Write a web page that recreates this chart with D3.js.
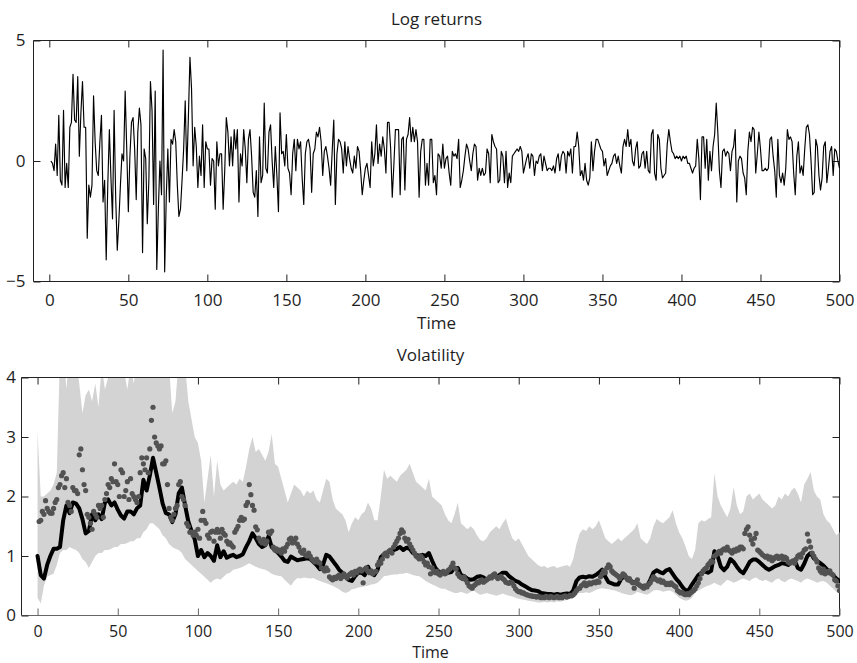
<!DOCTYPE html>
<html>
<head>
<meta charset="utf-8">
<script src="https://cdn.jsdelivr.net/npm/d3@7"></script>
<style>
  html, body { margin: 0; padding: 0; background: #fff; }
  svg { display: block; font-family: "Open Sans", "DejaVu Sans", sans-serif; }
</style>
</head>
<body>
<svg id="chart" width="857" height="663"></svg>
<script>
// ---------------------------------------------------------------
// Data
// ---------------------------------------------------------------

// Tick values shared by both panels
const timeTicks = [0, 50, 100, 150, 200, 250, 300, 350, 400, 450, 500];
const returnTicks = [-5, 0, 5];
const volTicks = [0, 1, 2, 3, 4];

// Daily log returns, t = 1..500
const logReturns = [
  0.0, -0.1, -0.4, 0.7, -0.6, 1.9, -0.8, -1.0, 2.1, -1.1,
  -0.1, -1.1, 1.4, 1.6, 3.6, 1.7, 1.6, 3.5, 0.2, 2.0,
  3.3, 1.4, 1.4, -3.2, -1.0, -1.5, -1.0, 2.7, 0.8, -0.4,
  -0.6, 0.8, 1.9, -1.7, -0.8, -4.1, -1.0, 1.3, -0.7, -2.4,
  2.1, -1.5, -3.7, -2.5, -1.0, 0.3, 0.0, 2.9, 0.5, -2.1,
  0.2, 1.6, 1.8, 0.5, -1.6, 1.2, 2.2, 1.5, -3.8, 0.5,
  0.1, -2.6, -0.8, 3.3, 2.1, -1.8, 2.9, -4.5, -2.0, 0.0,
  -1.4, 4.6, -4.6, -1.5, 0.5, -1.7, 0.9, 0.7, 1.3, 0.8,
  -1.0, -2.3, -2.0, -0.8, 0.5, 2.5, -0.4, 1.8, 4.3, 3.0,
  -0.2, 1.4, 0.6, -1.1, 0.2, -0.6, 1.5, -1.1, 0.8, 0.5,
  0.5, -1.0, 0.1, 0.0,
  -2.0, 0.8, -0.2, 0.3, 0.3, -2.0, -0.4, 1.8, 1.2, -0.2,
  1.0, -0.2, 1.3, 0.5, 1.3, -1.7, 0.3, -0.2, 1.3, 0.5,
  -0.9, 0.9, 1.3, 0.2, -1.3, -1.5, -0.4, -2.3, 1.0, -0.9,
  -0.6, 2.4, -0.3, -0.5, 1.2, 1.5, 0.0, -1.1, 0.6, -0.6,
  -2.1, 2.0, 0.3, 0.4, -0.2, 1.1, -0.3, -0.5, -1.4, 0.3,
  0.9, -0.4, 0.9, 0.5, 0.8, -0.7, -1.8, 0.3, 0.8, 0.9,
  0.5, -1.3, 0.3, 0.5, 1.2, 1.0, 1.4, 0.8, -0.6, 0.4,
  0.6, 0.2, -0.3, -1.0, 0.4, 1.7, -1.8, 0.3, 0.9, 0.8,
  0.5, -0.5, 0.8, -0.2, 0.6, 0.1, -0.3, -0.5, 0.2, -0.3,
  0.6, 0.4, -0.4, -1.4, -0.8, -0.3, -0.1, -0.6, -1.1, 0.8,
  -0.2, 0.3, 1.5, -0.1, 0.7, 0.2, 1.0, 0.5, -0.5, 1.6,
  1.6, 0.5, -1.5, -0.2, 1.3, 1.3, 1.3, -1.4, 0.9, 1.0,
  -1.2, 0.9, 1.1, 1.8, 0.8, 1.4, 0.8, 1.3, 0.8, -1.5,
  0.4, 0.9, 0.9, -1.0, -0.1, -1.0, 0.9, 0.9, -0.9, -0.6,
  -1.4, 0.3, 0.2, -0.3, 0.7, -0.3, 0.1, 0.2, -0.5, -1.0,
  0.4, 0.2, 0.3, 0.1, 0.9, -1.1, -0.8, -0.4, 0.2, 0.7,
  0.5, 0.0, -0.4, 0.3, 0.7, 0.6, -0.8, -0.3, -0.6, -0.3,
  -0.6, -0.5, 0.5, 0.3, -0.9, 1.1, 0.8, 0.6, 0.5, -0.9,
  -0.8, 0.4, 0.2, -0.9, 0.4, -1.1, -0.5, -0.9, 0.2, 0.3,
  0.4, 0.5, 0.4, 0.6, 0.4, -0.5, -0.2, 0.1, 0.3, -0.3,
  0.3, 0.2, -0.6, 0.0, -0.1, 0.2, 0.3, -0.4, 0.2, -0.1,
  -0.4, -0.3, -0.3, -0.4, -0.2, -0.5, 0.1, 0.3, -0.4, 0.2,
  0.4, 0.3, -0.5, 0.4, 0.2, 0.5, -0.5, 0.6, 0.6, 1.2,
  0.6, -0.6, -0.4, -0.8, -0.1, -0.8, -1.0, -0.7, 0.8, -0.4,
  0.4, 0.9, 0.9, 0.7, 0.5, 0.4, -0.2, 0.1, -0.6, -0.4,
  -0.2, -0.1, 0.2, 0.3, -0.1, 0.2,
  -0.2, -0.5, 0.6, 0.9, 0.6, 1.3, 0.6, 0.9, 0.0, -0.2,
  0.5, 0.8, -0.3, -0.2, 0.3, 0.4, -0.3, 0.4, -0.4, -0.5,
  1.1, 1.3, -0.5, -0.8, 1.1, 0.9, -0.3, -0.7, -0.6, -0.5,
  0.7, 1.3, 0.8, 0.4, 0.3, 0.1, 0.2, 0.1, 0.2, 0.0, 0.2, 0.1, 0.2,
  -0.1, -0.1, -0.3, -0.5, -0.3, -0.2, 0.9, 0.1, -1.6, 1.0,
  1.0, -0.3, 0.9, -0.8, 0.4, -0.4, 0.6, 1.1, 2.4, 1.2,
  -0.4, -1.1, 0.4, 0.5, 0.2, 0.4, 0.3, -0.4, 0.4, 0.6,
  1.3, -1.7, 0.0, 0.2, 0.1, -0.5, -0.7, -1.4, 0.4, 1.2,
  0.8, 1.4, 1.3, -0.5, 0.3, 1.2, 0.5, -0.4, -0.4, -0.3,
  -0.4, -0.3, 0.9, 1.0, 0.2, -0.4, -1.5, 0.9, -0.6, -0.9,
  -0.5, -1.0, -0.3, 1.3, 0.9, 1.0, 0.8, -0.5, -1.4, 0.2,
  0.8, -0.5, -0.2, -0.6, 0.5, 1.4, 1.5, 1.1, 0.0, -1.4,
  -1.3, 0.9, 0.6, -0.6, -1.2, -0.7, 0.6, 0.8, -0.9, -0.3,
  0.4, 0.6, -0.6, 0.5, 0.4, 0.0, -0.3
];
const returnTimes = logReturns.map((_, i) => i + 1);

// Volatility band (upper / lower) and filtered estimate, every second step t = 0, 2, ..., 500
const volUpper = [
  3.1, 2.0, 2.0, 2.05, 2.1, 2.2, 2.4, 4.4, 4.6, 3.8,
  4.5, 4.4, 4.3, 3.9, 3.4, 3.7, 3.8, 3.6, 3.9, 3.5,
  4.2, 3.8, 4.0, 4.4, 4.6, 4.5, 4.3, 4.1, 3.8, 4.2,
  3.9, 4.3, 4.6, 4.8, 5.0, 5.2, 5.3, 5.0, 4.8, 4.6,
  4.4, 4.2, 3.4, 3.6, 4.3, 4.5, 4.2, 3.6, 3.3, 3.0,
  2.9, 2.6, 1.9, 2.3, 2.7, 2.0, 2.6, 2.2, 2.1, 2.15,
  2.2, 2.25, 2.2, 2.3, 2.25, 2.5, 2.8, 3.0, 2.75, 2.8,
  2.7, 2.6, 2.75, 3.05, 2.55, 2.5, 2.3, 2.1, 1.9, 2.05,
  2.2, 2.15, 2.1, 2.0, 2.1, 2.05, 2.1, 1.95, 1.9, 2.1,
  2.3, 2.25, 1.95, 1.8, 1.75, 1.7, 1.6, 1.4, 1.55, 1.65,
  1.6, 1.7, 1.75, 1.9, 1.8, 1.6, 1.6, 2.0, 2.45, 2.3,
  2.35, 2.3, 2.25, 2.35, 2.4, 2.45, 2.55,
  2.4, 2.25, 2.2, 2.15, 2.1, 2.3, 2.0, 1.95, 1.9, 1.85,
  1.7, 1.6, 1.55, 1.7, 1.9, 1.55, 1.5, 1.45, 1.5, 1.45,
  1.35, 1.27, 1.25, 1.3, 1.4, 1.45, 1.5, 1.45, 1.55, 1.63,
  1.45, 1.3, 1.25, 1.3, 1.2, 1.1, 1.0, 0.95, 0.9, 0.85,
  0.82, 0.83, 0.8, 0.82, 0.83, 0.8, 0.82, 0.83, 0.85, 0.82,
  0.95, 1.2, 1.38, 1.45, 1.42, 1.5, 1.45, 1.5, 1.6, 1.45,
  1.3, 1.25, 1.2, 1.25, 1.3,
  1.25, 1.3, 1.35, 1.4, 1.45, 1.55, 1.3, 1.25, 1.2, 1.3,
  1.5, 1.62, 1.58, 1.55, 1.6, 1.65, 1.77, 1.55, 1.4, 1.3,
  1.16, 1.0, 0.95, 1.1, 1.55, 1.6, 1.58, 1.62, 1.65, 2.39,
  2.0, 1.85, 1.75, 1.65, 1.8, 2.16, 1.85, 1.7, 1.75, 2.0,
  2.05, 1.95, 2.0, 2.05, 1.95, 1.9, 1.85, 1.8, 1.85, 2.0,
  1.95, 2.05, 2.0, 2.1, 2.15, 2.05, 1.9, 2.2, 2.3, 2.41,
  2.1, 2.0, 1.95, 1.7, 1.6, 1.55, 1.45, 1.35, 1.4
];
const volLower = [
  0.3, 0.2, 0.5, 0.65, 0.68, 0.7, 0.85, 1.05, 1.1, 1.1,
  1.15, 1.12, 1.1, 1.05, 0.95, 0.9, 0.8, 0.9, 1.0, 1.05,
  1.05, 1.1, 1.1, 1.12, 1.15, 1.15, 1.2, 1.2, 1.22, 1.25,
  1.25, 1.3, 1.3, 1.4, 1.45, 1.55, 1.55, 1.5, 1.45, 1.35,
  1.3, 1.2, 1.15, 1.12, 1.1, 1.05, 0.95, 0.9, 0.85, 0.8,
  0.75, 0.7, 0.65, 0.6, 0.55, 0.6, 0.62,
  0.6, 0.65, 0.7, 0.72, 0.77, 0.78, 0.8, 0.82, 0.85, 0.88,
  0.85, 0.82, 0.8, 0.78, 0.77, 0.74, 0.7, 0.68, 0.67, 0.66,
  0.6, 0.55, 0.5, 0.58, 0.63, 0.62, 0.64, 0.63, 0.62, 0.63,
  0.6, 0.58, 0.56, 0.54, 0.52, 0.5, 0.47, 0.44, 0.4, 0.38,
  0.4, 0.44, 0.45, 0.47, 0.48, 0.49, 0.5, 0.52, 0.53, 0.55,
  0.6, 0.66, 0.67, 0.68, 0.69, 0.69, 0.7, 0.7, 0.72, 0.7,
  0.68, 0.67, 0.66, 0.62, 0.58, 0.55, 0.52, 0.5, 0.47, 0.45,
  0.45, 0.42, 0.4, 0.38, 0.38, 0.4, 0.38, 0.36, 0.4, 0.42,
  0.38, 0.35, 0.36, 0.38, 0.36, 0.35, 0.33, 0.35, 0.37, 0.35,
  0.33, 0.32, 0.3, 0.28, 0.27, 0.26, 0.25, 0.24, 0.23, 0.22,
  0.22, 0.23, 0.22, 0.23, 0.22, 0.24, 0.23, 0.25, 0.26, 0.28,
  0.32, 0.36, 0.38, 0.38, 0.39, 0.38, 0.4, 0.43, 0.45, 0.46,
  0.45, 0.44, 0.43, 0.42, 0.4,
  0.38, 0.36, 0.35, 0.34, 0.36, 0.4, 0.38, 0.36, 0.35, 0.38,
  0.42, 0.43, 0.42, 0.4, 0.41, 0.42, 0.4, 0.35, 0.3, 0.27,
  0.25, 0.26, 0.3, 0.38, 0.42, 0.45, 0.48, 0.5, 0.52, 0.55,
  0.52, 0.5, 0.55, 0.6, 0.58, 0.55, 0.57, 0.6, 0.62, 0.6,
  0.58, 0.62, 0.64, 0.6, 0.58, 0.6, 0.57, 0.55, 0.6, 0.62,
  0.58, 0.56, 0.6, 0.62, 0.6, 0.58, 0.55, 0.6, 0.62, 0.6,
  0.58, 0.55, 0.57, 0.58, 0.55, 0.5, 0.45, 0.4, 0.38
];
const volEstimate = [
  1.0, 0.68, 0.62, 0.85, 1.0, 1.12, 1.12, 1.15, 1.6, 1.85,
  1.72, 1.9, 1.88, 1.8, 1.62, 1.38, 1.42, 1.7, 1.6, 1.7,
  1.62, 1.9, 1.95, 1.85, 1.9, 1.78, 1.68, 1.63, 1.75, 1.75,
  1.7, 1.8, 1.85, 2.28, 2.1, 2.35, 2.65, 2.4, 2.15, 1.88,
  1.72, 1.7, 1.57, 1.7, 2.05, 2.15, 1.85, 1.58, 1.42, 1.28,
  1.0,
  1.1, 0.98, 1.05, 1.0, 0.92, 1.18, 0.98, 1.08, 0.97, 1.0,
  1.02, 0.98, 1.0, 1.03, 1.15, 1.25, 1.38, 1.3, 1.2, 1.15,
  1.18, 1.33, 1.15, 1.1, 1.05, 0.99, 0.92, 0.9, 0.99, 0.96,
  0.93, 0.94, 0.95, 0.96, 0.95, 0.9, 0.85, 0.78, 0.85, 1.02,
  0.99, 0.92, 0.85, 0.77, 0.72, 0.66, 0.6, 0.58, 0.66, 0.72,
  0.72, 0.68, 0.82, 0.72, 0.68, 0.77, 0.98, 1.03, 1.05, 1.08,
  1.1, 1.12, 1.15, 1.1, 1.14, 1.12,
  1.05, 1.02, 1.0, 1.02, 1.0, 1.05, 0.92, 0.8, 0.74, 0.72,
  0.7, 0.72, 0.73, 0.8, 0.8, 0.68, 0.66, 0.62, 0.6, 0.61,
  0.65, 0.66, 0.64, 0.6, 0.63, 0.68, 0.65, 0.68, 0.72, 0.72,
  0.66, 0.62, 0.58, 0.56, 0.52, 0.49, 0.46, 0.43, 0.42, 0.41,
  0.38, 0.37, 0.36, 0.36, 0.35, 0.36, 0.35, 0.36, 0.37, 0.36,
  0.42, 0.58, 0.64, 0.65, 0.64, 0.66, 0.65, 0.68, 0.72, 0.77,
  0.65, 0.56, 0.54, 0.52, 0.52,
  0.62, 0.66, 0.6, 0.57, 0.56, 0.53, 0.49, 0.5, 0.49, 0.6,
  0.72, 0.76, 0.73, 0.71, 0.76, 0.78, 0.7, 0.62, 0.56, 0.48,
  0.42, 0.43, 0.52, 0.6, 0.68, 0.72, 0.74, 0.72, 0.75, 1.08,
  1.0, 0.82, 0.76, 0.82, 0.95, 0.9, 0.82, 0.75, 0.71, 0.8,
  0.9, 0.94, 0.94, 0.9, 0.85, 0.8, 0.77, 0.8, 0.83, 0.85,
  0.88, 0.87, 0.85, 0.9, 0.93, 0.8, 0.77, 0.87, 1.0, 1.05,
  0.96, 0.92, 0.88, 0.84, 0.78, 0.72, 0.68, 0.62, 0.58
];
const volTimes = volEstimate.map((_, i) => i * 2);

// Realised volatility points, t = 1..500
const volRealised = [
  1.58, 1.6, 1.75, 1.7, 1.93, 1.8, 1.75, 1.72, 1.72, 1.8,
  1.9, 1.95, 2.15, 2.2, 2.35, 2.4, 2.15, 2.3, 1.9, 1.85,
  1.75, 2.15, 2.1, 2.1, 2.05, 2.7, 2.8, 2.45, 2.2, 2.1,
  1.7, 1.65, 1.55, 1.45, 1.75, 1.7, 1.65, 1.85, 1.8, 1.85,
  1.65, 1.95, 2.05, 2.2, 2.15, 2.3, 2.25, 2.55, 2.25, 2.2,
  2.0, 2.45, 2.4, 2.0, 2.1, 2.25, 1.95, 2.3, 2.05, 2.0,
  1.95, 1.9, 2.0, 2.4, 2.65, 2.55, 2.45, 2.65, 2.4, 2.8,
  3.28, 3.5, 3.0, 2.9, 2.85, 2.8, 2.85, 2.55, 2.55, 2.6,
  2.2, 1.8, 1.65, 1.6, 1.7, 1.8, 1.85, 2.2, 2.25, 2.0,
  1.95, 1.85, 1.55, 1.5, 1.4, 1.4, 1.35, 1.4, 1.35, 1.45,
  1.3, 1.6, 1.75, 1.6, 1.55, 1.35, 1.3, 1.4, 1.42, 1.25,
  1.4, 1.45, 1.4, 1.3, 1.45, 1.38, 1.35, 1.25, 1.2, 1.22,
  1.18, 1.15, 1.4, 1.45, 1.5, 1.6, 1.65, 1.6, 1.62, 1.85,
  1.9, 2.2, 2.03, 1.85, 1.77, 1.49, 1.44, 1.3, 1.25, 1.22,
  1.28, 1.2, 1.25, 1.4, 1.38, 1.42, 1.15, 1.1, 1.12, 1.08,
  1.1, 1.05, 1.12, 1.08, 1.15, 1.2, 1.28, 1.3, 1.22, 1.25,
  1.3, 1.2, 1.15, 1.08, 1.05, 1.1, 1.02, 1.0, 1.05, 1.0,
  0.95, 0.92, 0.9, 0.95, 0.9, 0.88, 0.8, 0.78, 0.75, 0.8,
  0.76, 0.65, 0.62, 0.6, 0.64, 0.62, 0.66, 0.68, 0.62, 0.65,
  0.7, 0.66, 0.63, 0.68, 0.7, 0.72, 0.68, 0.74, 0.72, 0.76,
  0.78, 0.75, 0.55, 0.78, 0.8, 0.74, 0.72, 0.75, 0.7, 0.73,
  0.74, 0.85, 0.9, 0.88, 0.95, 1.02, 1.05, 1.0, 1.08, 1.1,
  1.05, 1.15, 1.2, 1.25, 1.3, 1.38, 1.44, 1.4, 1.3, 1.25,
  1.28, 1.2, 1.15, 1.1, 1.05, 1.0, 0.98, 0.95, 1.0, 0.96,
  0.9, 0.85, 0.88, 0.82, 0.7, 0.8, 0.75, 0.72, 0.74, 0.7,
  0.68, 0.72, 0.74, 0.7, 0.72, 0.76, 0.78, 0.82, 0.88, 0.8,
  0.78, 0.7, 0.66, 0.64, 0.62, 0.65, 0.6, 0.55, 0.5, 0.48,
  0.46, 0.5, 0.52, 0.56, 0.55, 0.58, 0.6, 0.56, 0.58, 0.6,
  0.62, 0.65, 0.63, 0.68, 0.7, 0.65, 0.62, 0.64, 0.66, 0.62,
  0.6, 0.56, 0.55, 0.54, 0.56, 0.55, 0.5, 0.45, 0.42, 0.4,
  0.4, 0.38, 0.38, 0.36, 0.35, 0.34, 0.33, 0.33, 0.32, 0.32,
  0.31, 0.32, 0.31, 0.3, 0.31, 0.3, 0.32, 0.31, 0.3, 0.32,
  0.31, 0.3, 0.31, 0.32, 0.3, 0.31, 0.3, 0.32, 0.33, 0.31,
  0.32, 0.34, 0.33, 0.35, 0.38, 0.42, 0.45, 0.46, 0.5, 0.52,
  0.55, 0.5, 0.52, 0.55, 0.53, 0.55, 0.56, 0.55, 0.58, 0.56,
  0.65, 0.7, 0.75, 0.72, 0.8, 0.85, 0.82, 0.75, 0.72, 0.7,
  0.68, 0.66, 0.62, 0.66, 0.7, 0.68, 0.64, 0.6, 0.62, 0.58,
  0.55, 0.46, 0.55, 0.6, 0.52, 0.5, 0.48, 0.46, 0.5, 0.48,
  0.52, 0.55, 0.6, 0.65, 0.62, 0.6, 0.58, 0.6, 0.56, 0.58,
  0.55, 0.52, 0.54, 0.52, 0.55, 0.52, 0.5, 0.48, 0.42, 0.4,
  0.38, 0.39, 0.36, 0.35, 0.37, 0.35, 0.38, 0.4, 0.42, 0.45,
  0.5, 0.55, 0.62, 0.7, 0.75, 0.78, 0.8, 0.85, 0.88, 0.92,
  0.9, 1.0, 1.02, 1.05, 1.08, 1.05, 1.1, 1.12, 1.1, 1.15,
  1.1, 1.08, 1.05, 1.1, 1.08, 1.12, 1.1, 1.15, 1.15, 1.12,
  1.38, 1.45, 1.49, 1.35, 1.27, 1.2, 1.3, 1.38, 1.1, 1.08,
  1.05, 1.02, 1.0, 0.98, 1.0, 0.95, 0.98, 0.92, 0.95, 0.98,
  1.0, 0.96, 0.98, 1.0, 0.95, 0.98, 0.96, 0.9, 0.88, 0.9,
  0.92, 0.88, 0.95, 1.0, 1.02, 0.98, 1.05, 1.1, 1.12, 1.37,
  1.25, 1.15, 1.05, 1.0, 0.95, 0.9, 0.8, 0.75, 0.72, 0.78,
  0.7, 0.74, 0.72, 0.75, 0.7, 0.68, 0.6, 0.58, 0.5, 0.42
];
const realisedTimes = volRealised.map((_, i) => i + 1);

// ---------------------------------------------------------------
// Drawing
// ---------------------------------------------------------------
const svg = d3.select("#chart");
const TEXT = "#1e1e1e";
const FONT_SIZE = 17;
const FONT_SIZE_LOWER = 16;

const fmtSigned = d => (d < 0 ? "\u2212" + Math.abs(d) : String(d));

function styleAxis(g, color, size) {
  g.attr("color", color);
  g.select(".domain").remove();
  g.selectAll("text")
    .style("font-size", size + "px")
    .style("font-family", "'Open Sans', 'DejaVu Sans', sans-serif")
    .attr("fill", TEXT);
}

function drawAxes(g, x, y, yValues, yPad, xPad, bottomColor, xSize) {
  const [x0, x1] = x.range();
  const [yb, yt] = y.range();

  // frame
  g.append("line").attr("x1", x0).attr("x2", x0).attr("y1", yt).attr("y2", yb)
    .attr("stroke", "#222");
  g.append("line").attr("x1", x0).attr("x2", x1).attr("y1", yt).attr("y2", yt)
    .attr("stroke", "#222");
  g.append("line").attr("x1", x1).attr("x2", x1).attr("y1", yt).attr("y2", yb)
    .attr("stroke", "#222");
  g.append("line").attr("x1", x0).attr("x2", x1).attr("y1", yb).attr("y2", yb)
    .attr("stroke", bottomColor);

  g.append("g").attr("transform", `translate(0,${yb})`)
    .call(d3.axisBottom(x).tickValues(timeTicks).tickSizeInner(-7).tickSizeOuter(0).tickPadding(xPad))
    .call(s => styleAxis(s, bottomColor, xSize));
  g.append("g").attr("transform", `translate(0,${yt})`)
    .call(d3.axisTop(x).tickValues(timeTicks).tickSizeInner(-7).tickSizeOuter(0).tickFormat(""))
    .call(s => styleAxis(s, "#222", FONT_SIZE));
  g.append("g").attr("transform", `translate(${x0},0)`)
    .call(d3.axisLeft(y).tickValues(yValues).tickSizeInner(-7).tickSizeOuter(0).tickPadding(yPad).tickFormat(fmtSigned))
    .call(s => styleAxis(s, "#222", FONT_SIZE));
  g.append("g").attr("transform", `translate(${x1},0)`)
    .call(d3.axisRight(y).tickValues(yValues).tickSizeInner(-7).tickSizeOuter(0).tickFormat(""))
    .call(s => styleAxis(s, "#222", FONT_SIZE));
}

function label(text, x, y, size) {
  svg.append("text")
    .attr("x", x).attr("y", y)
    .attr("text-anchor", "middle")
    .attr("fill", TEXT)
    .style("font-size", size + "px")
    .text(text);
}

// ---- Panel 1: log returns ----
const xR = d3.scaleLinear().domain([-10, 500]).range([33.5, 839.5]);
const yR = d3.scaleLinear().domain([-5, 5]).range([281.5, 40.5]);
const gR = svg.append("g");
drawAxes(gR, xR, yR, returnTicks, 8, 12.5, "#222", FONT_SIZE);

gR.append("path")
  .datum(logReturns)
  .attr("fill", "none")
  .attr("stroke", "#000")
  .attr("stroke-width", 1.15)
  .attr("stroke-linejoin", "round")
  .attr("d", d3.line().x((d, i) => xR(returnTimes[i])).y(d => yR(d)));

label("Log returns", 436.5, 25, FONT_SIZE);
label("Time", 436.5, 328.5, FONT_SIZE);

// ---- Panel 2: volatility ----
const xV = d3.scaleLinear().domain([-10, 500]).range([21.5, 839.5]);
const yV = d3.scaleLinear().domain([0, 4]).range([615.5, 377.5]);
const gV = svg.append("g");
drawAxes(gV, xV, yV, volTicks, 5.5, 10.6, "#666", FONT_SIZE_LOWER);

svg.append("defs").append("clipPath").attr("id", "volClip")
  .append("rect")
  .attr("x", 21.5).attr("y", 378)
  .attr("width", 818.5).attr("height", 238);

const plotV = gV.append("g").attr("clip-path", "url(#volClip)");

// credible band
plotV.append("path")
  .datum(volTimes)
  .attr("fill", "#d3d3d3")
  .attr("stroke", "none")
  .attr("d", d3.area()
    .x(t => xV(t))
    .y0((t, i) => yV(volLower[i]))
    .y1((t, i) => yV(volUpper[i])));

// filtered estimate
plotV.append("path")
  .datum(volEstimate)
  .attr("fill", "none")
  .attr("stroke", "#000")
  .attr("stroke-width", 4)
  .attr("stroke-linejoin", "round")
  .attr("stroke-linecap", "round")
  .attr("d", d3.line().x((d, i) => xV(volTimes[i])).y(d => yV(d)));

// realised volatility points
plotV.append("g")
  .selectAll("circle")
  .data(volRealised)
  .join("circle")
  .attr("cx", (d, i) => xV(realisedTimes[i]))
  .attr("cy", d => yV(d))
  .attr("r", 2.6)
  .attr("fill", "#525252");

label("Volatility", 430.5, 360.5, FONT_SIZE);
label("Time", 430.5, 658.2, FONT_SIZE_LOWER);
</script>
</body>
</html>
